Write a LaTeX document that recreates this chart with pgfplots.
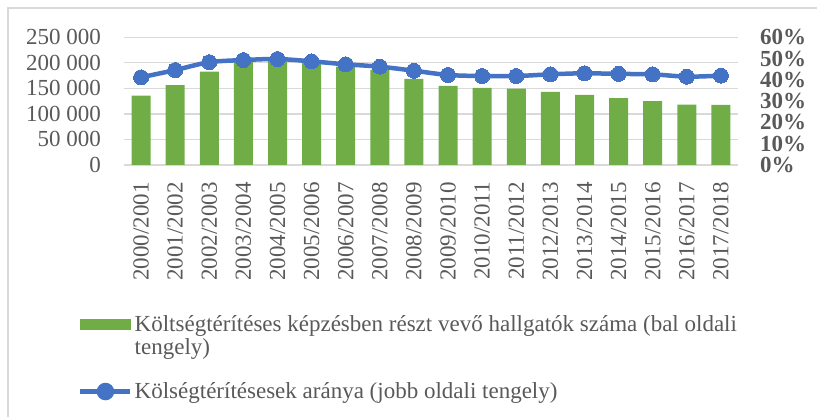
\documentclass[border=0pt]{standalone}
\usepackage{pgfplots}
\pgfplotsset{compat=1.18}
\usepackage{fontspec}
\setmainfont{Liberation Serif}
\definecolor{barg}{HTML}{70AD47}
\definecolor{lineb}{HTML}{4472C4}
\definecolor{gridc}{HTML}{D9D9D9}
\definecolor{txt}{HTML}{595959}
\pgfplotstableread{
x students ratio
0 136000 0.412
1 156500 0.446
2 183000 0.483
3 205000 0.493
4 209000 0.498
5 203000 0.487
6 192700 0.473
7 186300 0.462
8 168800 0.443
9 154900 0.423
10 151000 0.418
11 149600 0.418
12 143100 0.426
13 137300 0.431
14 130700 0.428
15 124900 0.426
16 118300 0.415
17 117600 0.420
}\datatable
\begin{document}
\begin{tikzpicture}[x=1pt,y=1pt,font=\fontsize{23}{23}\selectfont]
\path[use as bounding box] (0,0) rectangle (817,417);
\draw[gridc, line width=1.2pt] (8,0) -- (8,409) -- (817,409);
\begin{axis}[
  at={(124pt,252pt)}, anchor=south west,
  width=614pt, height=127.7pt, scale only axis,
  xmin=-0.5, xmax=17.5, ymin=0, ymax=250000,
  scaled y ticks=false,
  axis line style={draw=none},
  major tick length=0pt,
  ymajorgrids, grid style={gridc, line width=1.2pt},
  xtick={0,...,17},
  xticklabels={2000/2001,2001/2002,2002/2003,2003/2004,2004/2005,2005/2006,2006/2007,2007/2008,2008/2009,2009/2010,2010/2011,2011/2012,2012/2013,2013/2014,2014/2015,2015/2016,2016/2017,2017/2018},
  xticklabel style={rotate=90, anchor=east, inner sep=0pt, xshift=-17pt, text=txt},
  ytick={0,50000,100000,150000,200000,250000},
  yticklabels={0,50 000,100 000,150 000,200 000,250 000},
  yticklabel style={anchor=east, inner sep=0pt, xshift=-23pt, text=txt},
  clip=false,
]
\addplot[ybar, bar width=19pt, fill=barg, draw=none] table[x=x, y=students] {\datatable};
\end{axis}
\begin{axis}[
  at={(124pt,252pt)}, anchor=south west,
  width=614pt, height=127.7pt, scale only axis,
  xmin=-0.5, xmax=17.5, ymin=0, ymax=0.6,
  axis x line=none, axis y line*=right,
  axis line style={draw=none},
  major tick length=0pt,
  ytick={0,0.1,0.2,0.3,0.4,0.5,0.6},
  yticklabels={0\%,10\%,20\%,30\%,40\%,50\%,60\%},
  yticklabel style={anchor=west, inner sep=0pt, xshift=22pt, text=txt, font=\fontsize{23}{23}\selectfont\bfseries},
  clip=false,
  legend style={draw=none, fill=none, at={(-0.0749,-1.159)}, anchor=north west,
    cells={anchor=west}, text=txt, row sep=46pt, inner sep=0pt},
]
\addlegendimage{legend image code/.code={\fill[barg] (0pt,-5pt) rectangle (50pt,5pt);}}
\addlegendentry{\begin{tabular}[t]{@{}l@{}}Költségtérítéses képzésben részt vevő hallgatók száma (bal oldali\\tengely)\end{tabular}}
\addplot[lineb, line width=4.5pt, smooth, tension=0.5, mark=*, mark size=7.5pt, mark options={fill=lineb, draw=lineb, line width=0pt},
  legend image code/.code={\draw[lineb, line width=4.5pt] (0pt,0pt) -- (50pt,0pt); \fill[lineb] (25pt,0pt) circle (6.5pt);}]
  table[x=x, y=ratio] {\datatable};
\addlegendentry{Kölségtérítésesek aránya (jobb oldali tengely)}
\end{axis}
\end{tikzpicture}
\end{document}
